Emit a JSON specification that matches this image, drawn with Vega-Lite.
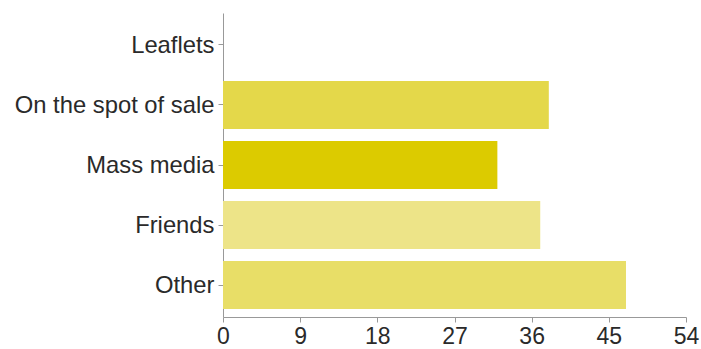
{
  "$schema": "https://vega.github.io/schema/vega-lite/v6.json",
  "width": 463,
  "height": 304,
  "autosize": "none",
  "padding": {"left": 223, "top": 13, "right": 15, "bottom": 32},
  "background": "white",
  "config": {"view": {"stroke": null}},
  "data": {
    "values": [
      {"source": "Leaflets", "count": 0},
      {"source": "On the spot of sale", "count": 38},
      {"source": "Mass media", "count": 32},
      {"source": "Friends", "count": 37},
      {"source": "Other", "count": 47}
    ]
  },
  "mark": {"type": "bar"},
  "encoding": {
    "y": {
      "field": "source",
      "type": "nominal",
      "sort": null,
      "scale": {"paddingInner": 0.2, "paddingOuter": 0.1333},
      "axis": {
        "title": null,
        "labelFont": "Liberation Sans",
        "labelFontSize": 23.8,
        "labelColor": "#2a2a2a",
        "labelPadding": 4,
        "labelOffset": 1,
        "tickSize": 5,
        "tickColor": "#999999",
        "domainColor": "#999999",
        "labelLimit": 300
      }
    },
    "x": {
      "field": "count",
      "type": "quantitative",
      "scale": {"domain": [0, 54], "nice": false},
      "axis": {
        "title": null,
        "values": [0, 9, 18, 27, 36, 45, 54],
        "grid": false,
        "labelFont": "Liberation Sans",
        "labelFontSize": 23,
        "labelColor": "#2a2a2a",
        "labelPadding": 3,
        "tickSize": 5,
        "tickColor": "#999999",
        "domainColor": "#999999",
        "labelFlush": false
      }
    },
    "color": {
      "field": "source",
      "type": "nominal",
      "legend": null,
      "scale": {
        "domain": ["Leaflets", "On the spot of sale", "Mass media", "Friends", "Other"],
        "range": ["#e4d84a", "#e4d84a", "#dccb00", "#ede488", "#e8de67"]
      }
    }
  }
}
